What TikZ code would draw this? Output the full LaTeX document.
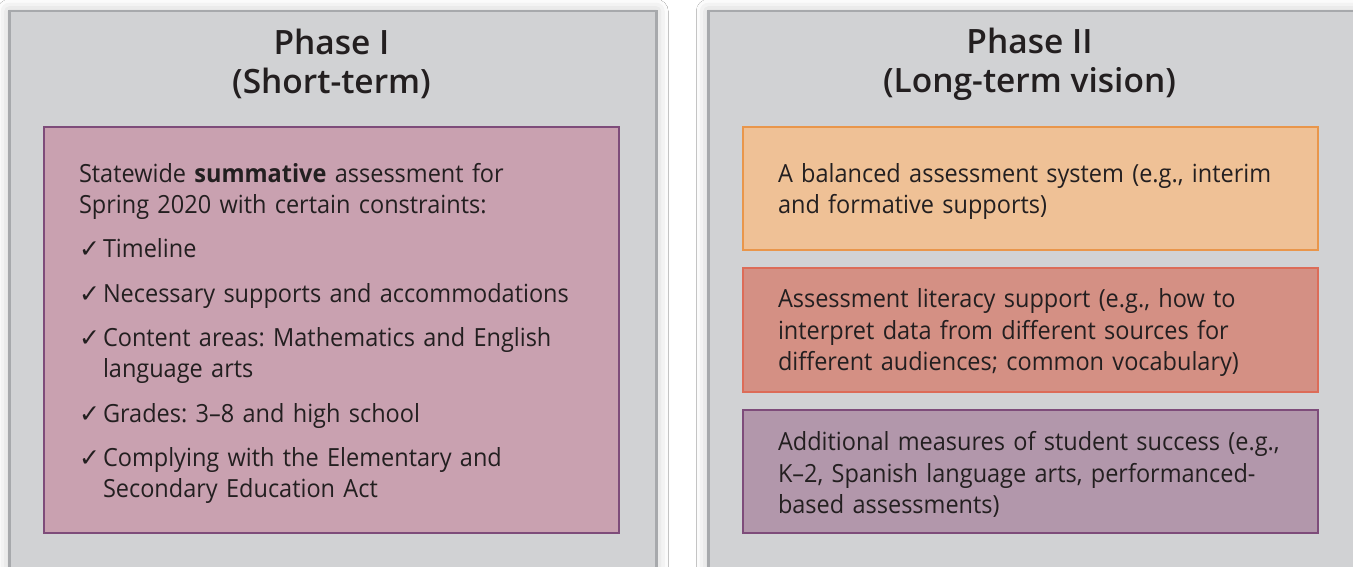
\documentclass[tikz,border=0pt]{standalone}
\usepackage{fontspec}
\setmainfont{Open Sans}[FakeStretch=0.94]
\newfontfamily\symfont{DejaVu Sans}
\newfontfamily\titlefont{Open Sans Semibold}
\usetikzlibrary{shadows.blur}
\definecolor{panelfill}{HTML}{D1D2D4}
\definecolor{panelline}{HTML}{A7A9AC}
\definecolor{pinkfill}{HTML}{C9A1B0}
\definecolor{plumline}{HTML}{7E4C7A}
\definecolor{orangefill}{HTML}{EFC196}
\definecolor{orangeline}{HTML}{E9964B}
\definecolor{redfill}{HTML}{D49084}
\definecolor{redline}{HTML}{DC6C58}
\definecolor{purplefill}{HTML}{B297AB}
\definecolor{inktext}{HTML}{231F20}
\frenchspacing
\newcommand{\chkmk}{\makebox[24pt][l]{\symfont\fontsize{25}{30}\selectfont ✓}}
\tikzset{
  panel/.style={draw=panelline, line width=2.5pt, fill=panelfill, anchor=north west,
    minimum width=647pt, minimum height=620pt, inner sep=0pt,
    blur shadow={shadow xshift=0pt, shadow yshift=0pt, shadow blur radius=12pt, shadow opacity=25}},
  title/.style={align=center, text=inktext, font=\titlefont\fontsize{33.5}{39}\selectfont, inner sep=0pt},
  contentbox/.style={line width=1.2pt, minimum width=575pt, inner sep=0pt},
  contenttext/.style={text width=505pt, inner sep=0pt, align=left, text=inktext,
    font=\fontsize{25}{31.5}\selectfont},
}
\begin{document}
\begin{tikzpicture}[x=1pt,y=-1pt]
\useasboundingbox (0,0) rectangle (1353,567);
\clip (0,0) rectangle (1353,567);
\fill[white] (0,0) rectangle (1353,567);
\node[panel] (p1) at (8,10) {};
\node[panel, minimum width=646pt] (p2) at (707,10) {};
\node[title] (t1) at (331.5,64) {Phase I\\(Short-term)};
\node[title] (t2) at (1029.5,64) {Phase II\\(Long-term vision)};
\node[contentbox, fill=pinkfill, draw=plumline, minimum height=406pt] (b1) at (331.5,330) {};
\node[contentbox, fill=orangefill, draw=orangeline, minimum height=123pt] (b2) at (1030.5,188.5) {};
\node[contentbox, fill=redfill, draw=redline, minimum height=124pt] (b3) at (1030.5,330) {};
\node[contentbox, fill=purplefill, draw=plumline, minimum height=123pt] (b4) at (1030.5,471.5) {};
\node[contenttext, font=\fontsize{25}{31}\selectfont] (b1t) at ([yshift=-3.5pt]b1.center) {%
Statewide \textbf{summative} assessment for\\
Spring 2020 with certain constraints:\\[13.5pt]
\chkmk Timeline\\[13.5pt]
\chkmk Necessary supports and accommodations\\[13.5pt]
\chkmk Content areas: Mathematics and English\\
\hspace*{24pt}language arts\\[13.5pt]
\chkmk Grades: 3–8 and high school\\[13.5pt]
\chkmk Complying with the Elementary and\\
\hspace*{24pt}Secondary Education Act};
\node[contenttext] (b2t) at ([yshift=-3pt]b2.center) {%
A balanced assessment system (e.g., interim\\
and formative supports)};
\node[contenttext] (b3t) at ([yshift=-3pt]b3.center) {%
Assessment literacy support (e.g., how to\\
interpret data from different sources for\\
different audiences; common vocabulary)};
\node[contenttext] (b4t) at ([yshift=-3pt]b4.center) {%
Additional measures of student success (e.g.,\\
K–2, Spanish language arts, performanced-\\
based assessments)};
\end{tikzpicture}
\end{document}
